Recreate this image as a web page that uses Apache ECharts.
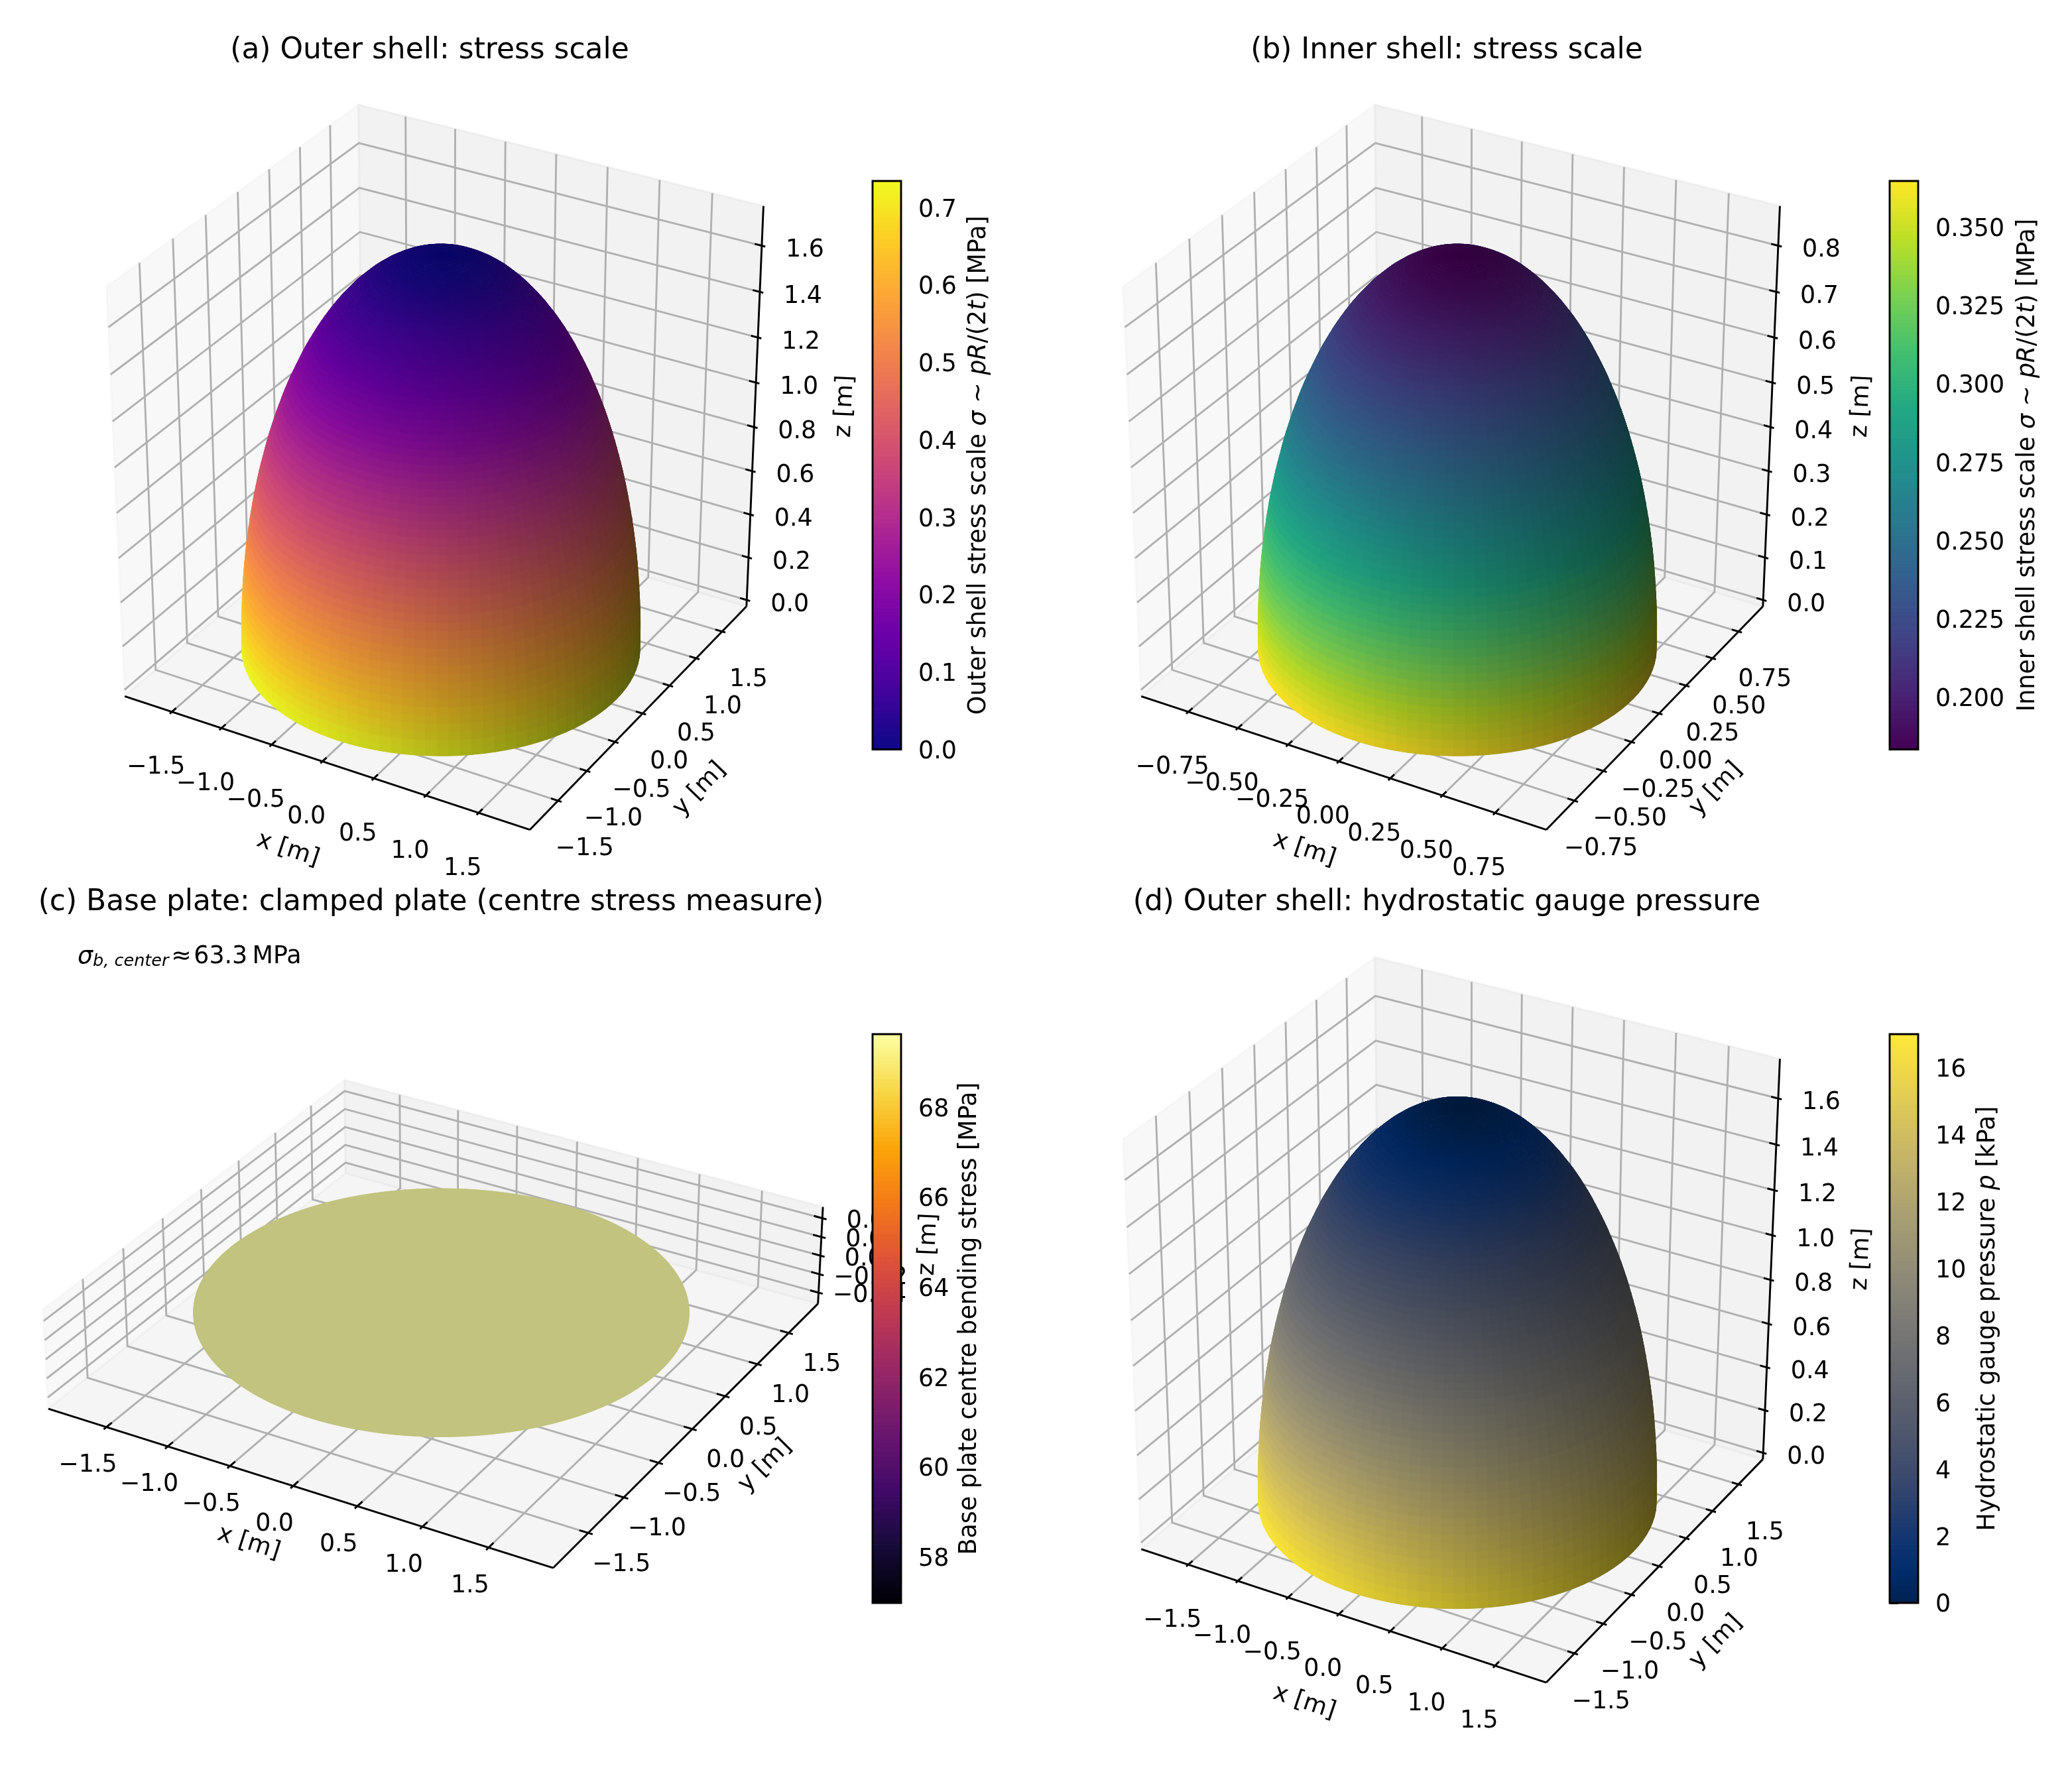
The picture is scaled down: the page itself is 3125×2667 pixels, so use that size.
<!DOCTYPE html>
<html><head><meta charset="utf-8">
<style>html,body{margin:0;padding:0;background:#fff}#c{width:3125px;height:2667px}</style>
<script src="https://cdn.jsdelivr.net/npm/echarts@6/dist/echarts.min.js"></script>
</head><body><div id="c"></div>
<script>
// ---------- data ----------
const outerZ=[0,.036,.072,.109,.145,.181,.217,.253,.289,.324,.360,.395,.430,.465,.500,.535,.569,.603,.637,.670,.704,.737,.769,.802,.833,.865,.896,.927,.957,.987,1.017,1.046,1.075,1.103,1.130,1.158,1.184,1.210,1.236,1.261,1.286,1.310,1.333,1.356,1.378,1.400,1.421,1.441,1.461,1.480,1.498,1.516,1.533,1.550,1.565,1.580,1.595,1.609,1.621,1.634,1.645,1.656,1.666,1.676,1.684,1.692,1.699,1.706,1.711,1.716,1.721,1.724,1.727,1.728,1.730,1.730];
const outerR=[1.730,1.730,1.728,1.727,1.724,1.721,1.716,1.711,1.706,1.699,1.692,1.684,1.676,1.666,1.656,1.645,1.634,1.621,1.609,1.595,1.580,1.565,1.550,1.533,1.516,1.498,1.480,1.461,1.441,1.421,1.400,1.378,1.356,1.333,1.310,1.286,1.261,1.236,1.210,1.184,1.158,1.130,1.103,1.075,1.046,1.017,.987,.957,.927,.896,.865,.833,.802,.769,.737,.704,.670,.637,.603,.569,.535,.500,.465,.430,.395,.360,.324,.289,.253,.217,.181,.145,.109,.072,.036,0];
const outerStress=[.734,.719,.704,.688,.673,.658,.642,.627,.612,.597,.582,.567,.552,.537,.522,.507,.493,.478,.464,.450,.436,.422,.408,.394,.381,.367,.354,.341,.328,.315,.303,.290,.278,.266,.255,.243,.232,.221,.210,.199,.189,.178,.169,.159,.149,.140,.131,.123,.114,.106,.098,.091,.084,.077,.070,.064,.057,.052,.046,.041,.036,.031,.027,.023,.019,.016,.013,.010,.008,.006,.004,.003,.001,.001,0,0];
const outerPressure=[17,16.64,16.29,15.93,15.58,15.22,14.87,14.52,14.16,13.81,13.47,13.12,12.77,12.43,12.09,11.75,11.41,11.07,10.74,10.41,10.09,9.76,9.44,9.12,8.81,8.5,8.19,7.89,7.59,7.30,7.01,6.72,6.44,6.16,5.89,5.63,5.36,5.11,4.85,4.61,4.37,4.13,3.90,3.68,3.46,3.25,3.04,2.84,2.65,2.46,2.28,2.10,1.93,1.77,1.62,1.47,1.33,1.19,1.07,.95,.83,.73,.63,.53,.45,.37,.30,.24,.18,.13,.09,.06,.03,.02,0,0];
const innerZ=[0,.018,.036,.0545,.0725,.0905,.1085,.1265,.1445,.162,.18,.1975,.215,.2325,.25,.2675,.2845,.3015,.3185,.335,.352,.3685,.3845,.401,.4165,.4325,.448,.4635,.4785,.4935,.5085,.523,.5375,.5515,.565,.579,.592,.605,.618,.6305,.643,.655,.6665,.678,.689,.7,.7105,.7205,.7305,.74,.749,.758,.7665,.775,.7825,.79,.7975,.8045,.8105,.817,.8225,.828,.833,.838,.842,.846,.8495,.853,.8555,.858,.8605,.862,.8635,.864,.865,.865];
const innerR=[.865,.865,.864,.8635,.862,.8605,.858,.8555,.853,.8495,.846,.842,.838,.833,.828,.8225,.817,.8105,.8045,.7975,.79,.7825,.775,.7665,.758,.749,.74,.7305,.7205,.7105,.7,.689,.678,.6665,.655,.643,.6305,.618,.605,.592,.579,.565,.5515,.5375,.523,.5085,.4935,.4785,.4635,.448,.4325,.4165,.401,.3845,.3685,.352,.335,.3185,.3015,.2845,.2675,.25,.2325,.215,.1975,.18,.162,.1445,.1265,.1085,.0905,.0725,.0545,.036,.018,0];
const innerStress=[.3647,.3609,.3571,.3533,.3495,.3458,.3420,.3382,.3345,.3307,.3270,.3233,.3196,.3159,.3123,.3087,.3051,.3015,.2980,.2944,.2910,.2875,.2841,.2807,.2774,.2741,.2708,.2676,.2644,.2612,.2581,.2551,.2521,.2491,.2462,.2434,.2406,.2378,.2352,.2325,.2300,.2275,.2250,.2226,.2203,.2180,.2158,.2137,.2116,.2096,.2077,.2058,.2040,.2023,.2007,.1991,.1976,.1961,.1948,.1935,.1923,.1911,.1901,.1891,.1882,.1874,.1866,.1859,.1853,.1848,.1844,.1840,.1838,.1836,.1834,.1834];
const plateRadius=1.73;
const plateStress=69.63;
const xyTicksWide=[-1.5,-1,-.5,0,.5,1,1.5];
const xyTicksNarrow=[-.75,-.5,-.25,0,.25,.5,.75];
const zTicksOuter=[0,.2,.4,.6,.8,1,1.2,1.4,1.6];
const zTicksInner=[0,.1,.2,.3,.4,.5,.6,.7,.8];
const zTicksPlate=[-.04,-.02,0,.02,.04];
const cbTicksA=[0,.1,.2,.3,.4,.5,.6,.7];
const cbTicksB=[.2,.225,.25,.275,.3,.325,.35];
const cbTicksC=[58,60,62,64,66,68];
const cbTicksD=[0,2,4,6,8,10,12,14,16];
// ---------- colour maps ----------
const plasma=['#0d0887','#41049d','#6a00a8','#8f0da4','#b12a90','#cc4778','#e16462','#f2844b','#fca636','#fcce25','#f0f921'];
const viridis=['#440154','#482475','#414487','#355f8d','#2a788e','#21918c','#22a884','#44bf70','#7ad151','#bddf26','#fde725'];
const inferno=['#000004','#160b39','#420a68','#6a176e','#932667','#bc3754','#dd513a','#f37819','#fca50a','#f6d746','#fcffa4'];
const cividis=[[0,34,78],[0,44,108],[18,53,112],[39,63,110],[59,73,108],[73,83,108],[87,93,109],[100,103,112],[112,113,115],[125,123,118],[138,134,120],[151,145,118],[165,156,116],[180,167,111],[195,179,105],[210,191,95],[225,204,85],[240,218,70],[254,232,56]];
function hex(c){return Array.isArray(c)?c:[1,3,5].map(i=>parseInt(c.substr(i,2),16));}
function cmap(stops,t){t=Math.max(0,Math.min(1,t));const f=t*(stops.length-1),i=Math.min(stops.length-2,Math.floor(f)),k=f-i,a=hex(stops[i]),b=hex(stops[i+1]);return a.map((v,j)=>v+(b[j]-v)*k);}
function rgb(c,s){return 'rgb('+c.map(v=>Math.round(v*s)).join(',')+')';}
// ---------- layout ----------
const FONT='"DejaVu Sans"',FS=36.4,LW=2.9,SCALE=6408,HALF=640;
const panels=[
 {cx:665,cy:684.3,box:[1,1,1],xy:1.98,z:[-.03,1.77],xt:xyTicksWide,dxy:1,zt:zTicksOuter,dz:1,
  rows:[outerZ,outerR,outerStress],cm:plasma,vr:[0,.7343],xl:[-24,84],yl:[40,73],zl:[65,7],xn:[-52,133,-18.4],yn:[86,114,46],zn:[136,-8,87.5]},
 {cx:2198,cy:684.3,box:[1,1,1],xy:.99,z:[-.015,.885],xt:xyTicksNarrow,dxy:2,zt:zTicksInner,dz:1,
  rows:[innerZ,innerR,innerStress],cm:viridis,vr:[.1834,.3647],xl:[-24,84],yl:[40,73],zl:[65,7],xn:[-52,133,-18.4],yn:[86,114,46],zn:[136,-8,87.5]},
 {cx:665.5,cy:1970.7,box:[1,1,.2],xy:1.98,z:[-.052,.052],xt:xyTicksWide,dxy:1,zt:zTicksPlate,dz:2,
  plate:true,cm:inferno,vr:[56.97,69.63],xl:[-28,58],yl:[50,48],zl:[77,5],xn:[-67,86,-17.6],yn:[110,55,45],zn:[163,-17,87.5]},
 {cx:2198,cy:1970.7,box:[1,1,1],xy:1.98,z:[-.03,1.77],xt:xyTicksWide,dxy:1,zt:zTicksOuter,dz:1,
  rows:[outerZ,outerR,outerPressure],cm:cividis,vr:[0,17],xl:[-24,84],yl:[40,73],zl:[65,7],xn:[-52,133,-18.4],yn:[86,114,46],zn:[136,-8,87.5]}
];
const bars=[
 {x:1316,top:273,bottom:1130.5,w:43,cm:plasma,vr:[0,.7343],ticks:cbTicksA,dec:1,gap:100,
  name:'{r|Outer shell stress scale }{i|σ}{r| ∼ }{i|pR}{r|/(2}{i|t}{r|) [MPa]}'},
 {x:2850,top:273,bottom:1130.5,w:43,cm:viridis,vr:[.1834,.3647],ticks:cbTicksB,dec:3,gap:148,
  name:'{r|Inner shell stress scale }{i|σ}{r| ∼ }{i|pR}{r|/(2}{i|t}{r|) [MPa]}'},
 {x:1316,top:1560,bottom:2418,w:43,cm:inferno,vr:[56.97,69.63],ticks:cbTicksC,dec:0,gap:86,
  name:'{r|Base plate centre bending stress [MPa]}'},
 {x:2850,top:1560,bottom:2418,w:43,cm:cividis,vr:[0,17],ticks:cbTicksD,dec:0,gap:88,
  name:'{r|Hydrostatic gauge pressure }{i|p}{r| [kPa]}'}
];
const titles=[['(a) Outer shell: stress scale',643,72],['(b) Inner shell: stress scale',2177,72],['(c) Base plate: clamped plate (centre stress measure)',645,1357],['(d) Outer shell: hydrostatic gauge pressure',2177,1357]];
// ---------- mplot3d camera (elev 30, azim -60) ----------
function projector(p){
 const n=Math.hypot(...p.box),k=.5*1.9057/n;
 const hx=k*p.box[0],hz=k*p.box[2],zc=(p.z[0]+p.z[1])/2,zh=(p.z[1]-p.z[0])/2;
 return (x,y,z)=>{
  const X=x/p.xy*hx,Y=y/p.xy*hx,Z=(z-zc)/zh*hz;
  const u=.866025*X+.5*Y,v=-.25*X+.433013*Y+.866025*Z,w=.433013*X-.75*Y+.5*Z,d=10-w;
  return [u/d,v/d];
 };
}
function fmt(v,d){return v.toFixed(d).replace('-','−');}
const LIGHT=[-.66667,-.66667,.33333],COLS=112;
function shadeOf(n){const l=Math.hypot(n[0],n[1],n[2])||1,d=(n[0]*LIGHT[0]+n[1]*LIGHT[1]+n[2]*LIGHT[2])/l;return .3+.7*(d+1)/2;}
function surfaceItems(p,P){
 const out=[];
 if(p.plate){
  const pts=[];for(let j=0;j<180;j++){const a=j/180*2*Math.PI;pts.push(P(plateRadius*Math.cos(a),plateRadius*Math.sin(a),0));}
  const f=rgb(cmap(p.cm,(plateStress-p.vr[0])/(p.vr[1]-p.vr[0])),shadeOf([0,0,1]));
  out.push({k:'poly',pts,fill:f,stroke:f,lw:1});
  return out;
 }
 const [Z,R,V]=p.rows;
 for(let i=0;i<Z.length-1;i++){
  const col=cmap(p.cm,(V[i]-p.vr[0])/(p.vr[1]-p.vr[0]));
  for(let j=0;j<COLS;j++){
   const a=j/COLS*2*Math.PI,b=(j+1)/COLS*2*Math.PI;
   const q=[[R[i]*Math.cos(a),R[i]*Math.sin(a),Z[i]],[R[i]*Math.cos(b),R[i]*Math.sin(b),Z[i]],[R[i+1]*Math.cos(b),R[i+1]*Math.sin(b),Z[i+1]],[R[i+1]*Math.cos(a),R[i+1]*Math.sin(a),Z[i+1]]];
   const pts=q.map(c=>P(c[0],c[1],c[2]));
   let area=0;for(let m=0;m<4;m++){const s=pts[m],t=pts[(m+1)%4];area+=s[0]*t[1]-t[0]*s[1];}
   if(area<=0)continue;
   const d1=[q[2][0]-q[0][0],q[2][1]-q[0][1],q[2][2]-q[0][2]],d2=[q[3][0]-q[1][0],q[3][1]-q[1][1],q[3][2]-q[1][2]];
   const nrm=[d1[1]*d2[2]-d1[2]*d2[1],d1[2]*d2[0]-d1[0]*d2[2],d1[0]*d2[1]-d1[1]*d2[0]];
   const f=rgb(col,shadeOf(nrm));
   out.push({k:'poly',pts,fill:f,stroke:f,lw:1});
  }
 }
 return out;
}
function frameItems(p,P){
 const a=p.xy,z0=p.z[0],z1=p.z[1],out=[];
 const pane=(cs,c,e)=>out.push({k:'poly',pts:cs.map(q=>P(q[0],q[1],q[2])),fill:c,stroke:e,lw:LW});
 pane([[-a,-a,z0],[-a,a,z0],[-a,a,z1],[-a,-a,z1]],'rgba(242,242,242,.5)','rgba(242,242,242,.5)');
 pane([[-a,a,z0],[a,a,z0],[a,a,z1],[-a,a,z1]],'rgba(230,230,230,.5)','rgba(230,230,230,.5)');
 pane([[-a,-a,z0],[a,-a,z0],[a,a,z0],[-a,a,z0]],'rgba(236,236,236,.5)','rgba(236,236,236,.5)');
 const line=(cs)=>out.push({k:'line',pts:cs.map(q=>P(q[0],q[1],q[2])),stroke:'#b0b0b0',lw:LW});
 p.xt.forEach(t=>line([[t,-a,z0],[t,a,z0],[t,a,z1]]));
 p.xt.forEach(t=>line([[a,t,z0],[-a,t,z0],[-a,t,z1]]));
 p.zt.forEach(t=>line([[a,a,t],[-a,a,t],[-a,-a,t]]));
 return out;
}
function axisItems(p,P){
 const a=p.xy,z0=p.z[0],z1=p.z[1],d=2*a/12,out=[];
 const line=(cs)=>out.push({k:'line',pts:cs.map(q=>P(q[0],q[1],q[2])),stroke:'#000',lw:LW});
 line([[-a,-a,z0],[a,-a,z0]]);line([[a,-a,z0],[a,a,z0]]);line([[a,a,z0],[a,a,z1]]);
 const txt=(pt,off,s,rot)=>out.push({k:'text',pts:[pt],off,s,rot:rot||0});
 p.xt.forEach(t=>{line([[t,-a-.1*d,z0],[t,-a+.2*d,z0]]);txt(P(t,-a,z0),p.xl,fmt(t,p.dxy));});
 p.xt.forEach(t=>{line([[a+.1*d,t,z0],[a-.2*d,t,z0]]);txt(P(a,t,z0),p.yl,fmt(t,p.dxy));});
 p.zt.forEach(t=>{line([[a+.1*d,a,t],[a-.2*d,a,t]]);txt(P(a,a,t),p.zl,fmt(t,p.dz));});
 txt(P(0,-a,z0),p.xn,'x [m]',p.xn[2]);
 txt(P(a,0,z0),p.yn,'y [m]',p.yn[2]);
 txt(P(a,a,(z0+z1)/2),p.zn,'z [m]',p.zn[2]);
 return out;
}
function draw(items){
 return function(params,api){
  const it=items[params.dataIndex];
  const pts=it.pts.map(q=>api.coord(q));
  if(it.k==='poly')return {type:'polygon',shape:{points:pts},style:{fill:it.fill,stroke:it.stroke,lineWidth:it.lw}};
  if(it.k==='line')return {type:'polyline',shape:{points:pts},style:{fill:null,stroke:it.stroke,lineWidth:it.lw}};
  return {type:'text',x:pts[0][0]+it.off[0],y:pts[0][1]+it.off[1],rotation:it.rot*Math.PI/180,
   style:{text:it.s,fill:'#000',font:FS+'px '+FONT,align:'center',verticalAlign:'middle'}};
 };
}
function layer(items,idx,z){
 return {type:'custom',xAxisIndex:idx,yAxisIndex:idx,z,silent:true,animation:false,progressive:0,clip:false,
  renderItem:draw(items),data:items.map(it=>it.pts[0])};
}
const grid=[],xAxis=[],yAxis=[],series=[];
const span=HALF/SCALE;
panels.forEach((p,i)=>{
 grid.push({left:p.cx-HALF,top:p.cy-HALF,width:2*HALF,height:2*HALF,show:false});
 xAxis.push({type:'value',gridIndex:i,min:-span,max:span,show:false});
 yAxis.push({type:'value',gridIndex:i,min:-span,max:span,show:false});
 const P=projector(p);
 series.push(layer(frameItems(p,P),i,2));
 series.push(layer(axisItems(p,P),i,3));
 series.push(layer(surfaceItems(p,P),i,4));
});
const CB=128;
bars.forEach((b,n)=>{
 const i=panels.length+n,lo=b.vr[0],hi=b.vr[1];
 grid.push({left:b.x,top:b.top,width:b.w,height:b.bottom-b.top,show:false});
 xAxis.push({type:'value',gridIndex:i,min:0,max:1,show:false});
 yAxis.push({type:'value',gridIndex:i,position:'right',min:lo,max:hi,
  axisLine:{show:false},splitLine:{show:false},
  axisTick:{show:true,customValues:b.ticks,length:12.7,lineStyle:{color:'#000',width:LW}},
  axisLabel:{show:true,customValues:b.ticks,margin:26,color:'#000',fontFamily:FONT,fontSize:FS,
   rich:{a:{fontFamily:FONT,fontSize:FS,color:'#000',padding:[8,0,0,0]}},formatter:v=>'{a|'+fmt(+v,b.dec)+'}'},
  name:b.name,nameLocation:'middle',nameRotate:90,nameGap:b.gap,
  nameTextStyle:{color:'#000',rich:{r:{fontFamily:FONT,fontSize:FS,color:'#000'},i:{fontFamily:FONT,fontSize:FS,fontStyle:'italic',color:'#000'}}}});
 const cells=[];for(let k=0;k<CB;k++)cells.push([k,lo+(hi-lo)*k/CB,lo+(hi-lo)*(k+1)/CB]);
 series.push({type:'custom',xAxisIndex:i,yAxisIndex:i,z:6,silent:true,animation:false,clip:false,
  data:cells.map(c=>[.5,c[1],c[2],c[0]]),encode:{x:0,y:1},
  renderItem:(params,api)=>{
   const a=api.coord([0,api.value(1)]),c=api.coord([1,api.value(2)]),col=rgb(cmap(b.cm,(api.value(3)+.5)/CB),1);
   return {type:'rect',shape:{x:a[0],y:c[1],width:c[0]-a[0],height:a[1]-c[1]},style:{fill:col,stroke:col,lineWidth:1}};
  }});
 series.push({type:'custom',xAxisIndex:i,yAxisIndex:i,z:7,silent:true,animation:false,clip:false,
  data:[[0,lo,1,hi]],encode:{x:0,y:1},
  renderItem:(params,api)=>{
   const a=api.coord([0,api.value(1)]),c=api.coord([1,api.value(3)]);
   return {type:'rect',shape:{x:a[0],y:c[1],width:c[0]-a[0],height:a[1]-c[1]},style:{fill:null,stroke:'#000',lineWidth:LW}};
  }});
});
const title=titles.map(t=>({text:t[0],left:t[1],top:t[2]-22,textAlign:'center',textStyle:{fontFamily:FONT,fontSize:43.9,fontWeight:'normal',color:'#000'}}));
title.push({text:'{i|σ}{s|b, center}{r|\u200a≈\u200a63.3\u2009MPa}',left:112,top:1420,textStyle:{fontWeight:'normal',rich:{
 i:{fontFamily:FONT,fontSize:FS,fontStyle:'italic',fontWeight:'normal',color:'#000'},
 s:{fontFamily:FONT,fontSize:25.5,fontStyle:'italic',fontWeight:'normal',color:'#000',verticalAlign:'bottom',padding:[12,0,0,0]},
 r:{fontFamily:FONT,fontSize:FS,fontWeight:'normal',color:'#000'}}}});
const chart=echarts.init(document.getElementById('c'),null,{renderer:'canvas',width:3125,height:2667});
chart.setOption({backgroundColor:'#fff',animation:false,title,grid,xAxis,yAxis,series});
</script></body></html>
